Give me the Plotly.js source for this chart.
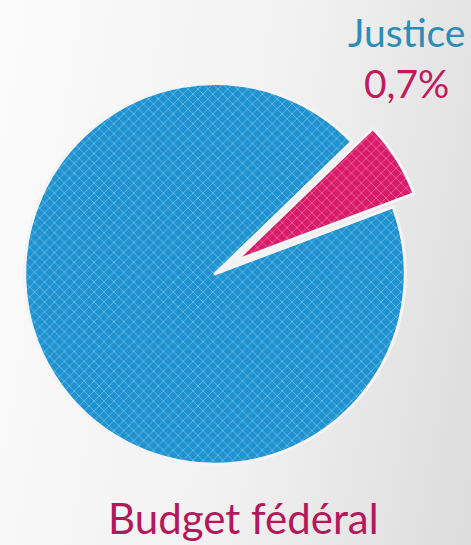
<!DOCTYPE html>
<html>
<head>
<meta charset="utf-8">
<script src="https://cdn.plot.ly/plotly-3.0.1.min.js"></script>
<style>
html,body{margin:0;padding:0;}
body{width:471px;height:545px;background:linear-gradient(100deg,#fbfbfb 0%,#f1f1f1 55%,#dcdcdc 100%);}
#chart{width:471px;height:545px;}
</style>
</head>
<body>
<div id="chart"></div>
<script>
// Slices as drawn (the wedge is exaggerated in the infographic; its label reads 0,7%)
const categories = ["Justice", "Budget fédéral"];
const drawnShares = [6.5, 93.5];
const shareLabels = ["0,7%", ""];
const sliceColors = ["#d81b68", "#1f92cf"];
const textureColors = ["#f06a9e", "#6ac0ea"];
const pulls = [0.13, 0];

const trace = {
  type: "pie",
  labels: categories,
  values: drawnShares,
  sort: false,
  direction: "clockwise",
  rotation: 46,
  pull: pulls,
  textinfo: "none",
  hoverinfo: "skip",
  marker: {
    colors: sliceColors,
    line: {color: "#f4f4f4", width: 3},
    pattern: {
      shape: ["x", "x"],
      bgcolor: sliceColors,
      fgcolor: textureColors,
      fillmode: "replace",
      size: 7,
      solidity: 0.22
    }
  },
  domain: {x: [0, 0.913], y: [0.103, 0.892]}
};

const layout = {
  width: 471,
  height: 545,
  margin: {l: 0, r: 0, t: 0, b: 0},
  paper_bgcolor: "rgba(0,0,0,0)",
  plot_bgcolor: "rgba(0,0,0,0)",
  showlegend: false,
  font: {family: "Lato, 'Open Sans', sans-serif"},
  annotations: [
    {text: categories[0], x: 0.862, y: 0.941, xref: "paper", yref: "paper",
     xanchor: "center", yanchor: "middle", showarrow: false,
     font: {size: 39, color: "#2a8db6", family: "Lato, sans-serif"}},
    {text: shareLabels[0], x: 0.862, y: 0.848, xref: "paper", yref: "paper",
     xanchor: "center", yanchor: "middle", showarrow: false,
     font: {size: 39, color: "#c2195d", family: "Lato, sans-serif"}},
    {text: categories[1], x: 0.516, y: 0.05, xref: "paper", yref: "paper",
     xanchor: "center", yanchor: "middle", showarrow: false,
     font: {size: 42, color: "#b2185a", family: "Lato, sans-serif"}}
  ]
};

Plotly.newPlot("chart", [trace], layout, {displayModeBar: false, staticPlot: true});
</script>
</body>
</html>
